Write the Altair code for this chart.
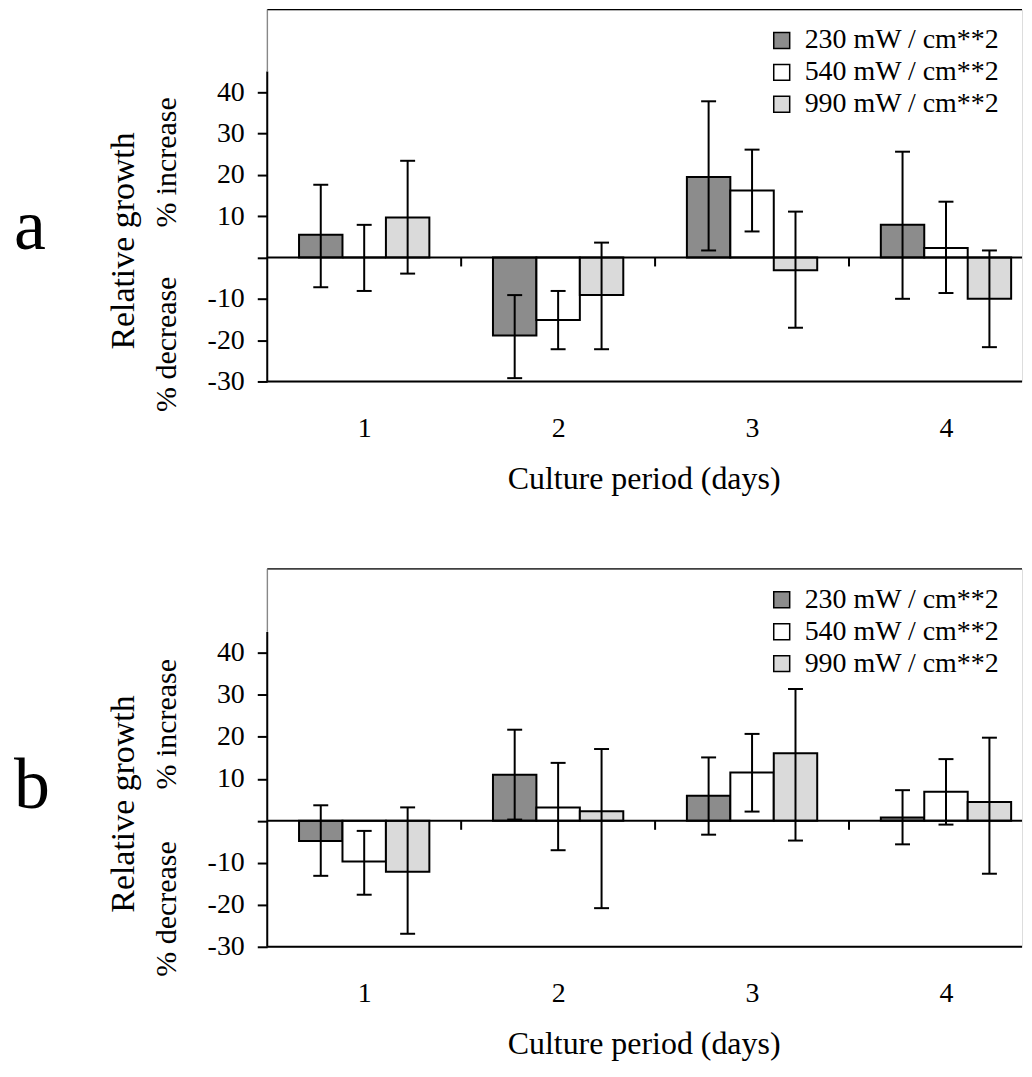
import altair as alt
import pandas as pd

days = [1, 2, 3, 4]
series = ["230 mW / cm**2", "540 mW / cm**2", "990 mW / cm**2"]
colors = ["#8c8c8c", "#ffffff", "#dadada"]
ytick_values = [-30, -20, -10, 0, 10, 20, 30, 40]

# panel a : bar heights and error-bar ends (% relative growth)
a_230 = [5.5, -18.9, 19.5, 7.9]
a_230_lo = [-7.2, -29.2, 1.7, -10.0]
a_230_hi = [17.6, -9.1, 37.8, 25.6]
a_540 = [0.0, -15.1, 16.2, 2.3]
a_540_lo = [-8.1, -22.2, 6.3, -8.6]
a_540_hi = [7.9, -8.1, 26.1, 13.5]
a_990 = [9.7, -9.1, -3.1, -10.0]
a_990_lo = [-3.9, -22.2, -17.0, -21.7]
a_990_hi = [23.4, 3.6, 11.1, 1.7]

# panel b
b_230 = [-4.8, 11.0, 6.0, 0.8]
b_230_lo = [-13.1, 0.3, -3.3, -5.6]
b_230_hi = [3.7, 21.7, 15.1, 7.3]
b_540 = [-9.7, 3.2, 11.5, 6.9]
b_540_lo = [-17.6, -7.0, 2.2, -0.9]
b_540_hi = [-2.4, 13.8, 20.7, 14.7]
b_990 = [-12.1, 2.3, 16.1, 4.5]
b_990_lo = [-26.9, -20.8, -4.7, -12.6]
b_990_hi = [3.2, 17.1, 31.4, 19.8]

FONT = "Liberation Serif"
W = 757
BW = 0.224  # bar width in day units
XDOM = [0.5, 0.5 + W / 194.5]


def build(vals, los, his):
    rows = []
    for si, (s, v, lo, hi) in enumerate(zip(series, vals, los, his)):
        for d, vv, l, h in zip(days, v, lo, hi):
            xc = d + (si - 1) * BW
            rows.append({"day": d, "series": s, "value": vv, "lo": l, "hi": h,
                         "xc": xc, "x0": xc - BW / 2, "x1": xc + BW / 2})
    return pd.DataFrame(rows)


def panel(letter, df, H):
    xs = alt.Scale(domain=XDOM, nice=False, zero=False)
    ys = alt.Scale(domain=[-30, 60], nice=False, zero=False)
    one = pd.DataFrame({"k": [0]})
    bounds = pd.DataFrame({"b": [d + 0.5 for d in days[:-1]]})

    bars = alt.Chart(df).mark_bar(stroke="black", strokeWidth=2).encode(
        x=alt.X("x0:Q", scale=xs, title=None,
                axis=alt.Axis(values=days, format="d", ticks=False, tickSize=0,
                              domain=False, grid=False, labelFont=FONT,
                              labelFontSize=28, labelColor="black",
                              labelPadding=33)),
        x2="x1:Q",
        y=alt.Y("value:Q", scale=ys, title=None,
                axis=alt.Axis(values=ytick_values, domain=False, grid=False,
                              tickSize=10, tickWidth=2, tickColor="black",
                              labelExpr="datum.value == 0 ? '' : '' + datum.value",
                              labelFont=FONT, labelFontSize=28,
                              labelColor="black", labelPadding=13)),
        y2=alt.datum(0),
        color=alt.Color("series:N",
                        scale=alt.Scale(domain=series, range=colors),
                        legend=alt.Legend(title=None, orient="none",
                                          legendX=502, legendY=17,
                                          symbolType="square", symbolSize=256,
                                          symbolStrokeColor="black",
                                          symbolStrokeWidth=1.5,
                                          labelFont=FONT, labelFontSize=28,
                                          labelColor="black", labelOffset=9,
                                          labelLimit=500,
                                          rowPadding=4, padding=0)),
    )
    err = alt.Chart(df).mark_rule(color="black", strokeWidth=2).encode(
        x="xc:Q", y="lo:Q", y2="hi:Q")
    cap_lo = alt.Chart(df).mark_tick(orient="horizontal", size=15, thickness=2,
                                     color="black", opacity=1).encode(
        x="xc:Q", y="lo:Q")
    cap_hi = alt.Chart(df).mark_tick(orient="horizontal", size=15, thickness=2,
                                     color="black", opacity=1).encode(
        x="xc:Q", y="hi:Q")
    zero = alt.Chart(one).mark_rule(color="black", strokeWidth=2).encode(
        x=alt.value(0), x2=alt.value(W), y=alt.datum(0))
    bticks = alt.Chart(bounds).mark_tick(orient="vertical", size=9, thickness=2,
                                         color="black", opacity=1,
                                         yOffset=4.5).encode(
        x="b:Q", y=alt.datum(0))
    yline = alt.Chart(one).mark_rule(color="black", strokeWidth=2).encode(
        x=alt.value(0), y=alt.datum(-30), y2=alt.datum(45))
    bottom = alt.Chart(one).mark_rule(color="black", strokeWidth=2).encode(
        x=alt.value(0), x2=alt.value(W), y=alt.datum(-30))
    top = alt.Chart(one).mark_rule(color="black", strokeWidth=1.2).encode(
        x=alt.value(0), x2=alt.value(W), y=alt.datum(60))
    left_thin = alt.Chart(one).mark_rule(color="#666666", strokeWidth=1).encode(
        x=alt.value(0), y=alt.datum(45), y2=alt.datum(60))

    t_rel = alt.Chart(one).mark_text(text="Relative growth", font=FONT,
                                     fontSize=34, angle=270, align="center",
                                     baseline="middle", color="black").encode(
        x=alt.value(-144), y=alt.datum(4))
    t_inc = alt.Chart(one).mark_text(text="% increase", font=FONT,
                                     fontSize=30, angle=270, align="center",
                                     baseline="middle", color="black").encode(
        x=alt.value(-101), y=alt.datum(23))
    t_dec = alt.Chart(one).mark_text(text="% decrease", font=FONT,
                                     fontSize=30, angle=270, align="center",
                                     baseline="middle", color="black").encode(
        x=alt.value(-101), y=alt.datum(-21))
    t_letter = alt.Chart(one).mark_text(text=letter, font=FONT, fontSize=72,
                                        align="left", baseline="alphabetic",
                                        color="black").encode(
        x=alt.value(-254), y=alt.value(240))
    t_title = alt.Chart(one).mark_text(text="Culture period (days)", font=FONT,
                                       fontSize=32, align="center",
                                       baseline="alphabetic",
                                       color="black").encode(
        x=alt.value(378), y=alt.value(H + 108))

    return alt.layer(bars, err, cap_lo, cap_hi, zero, bticks, yline, bottom,
                     top, left_thin, t_rel, t_inc, t_dec, t_letter,
                     t_title).properties(width=W, height=H)


pa = panel("a", build([a_230, a_540, a_990], [a_230_lo, a_540_lo, a_990_lo],
                      [a_230_hi, a_540_hi, a_990_hi]), 373)
pb = panel("b", build([b_230, b_540, b_990], [b_230_lo, b_540_lo, b_990_lo],
                      [b_230_hi, b_540_hi, b_990_hi]), 379)

chart = alt.vconcat(pa, pb, spacing=71).resolve_scale(
    color="independent", x="independent", y="independent"
).properties(
    padding={"left": 5, "top": -2, "right": 0, "bottom": 0},
    background="white",
).configure_view(stroke=None).configure(font=FONT)

chart.save("out.html", embed_options={"renderer": "svg", "actions": False})
